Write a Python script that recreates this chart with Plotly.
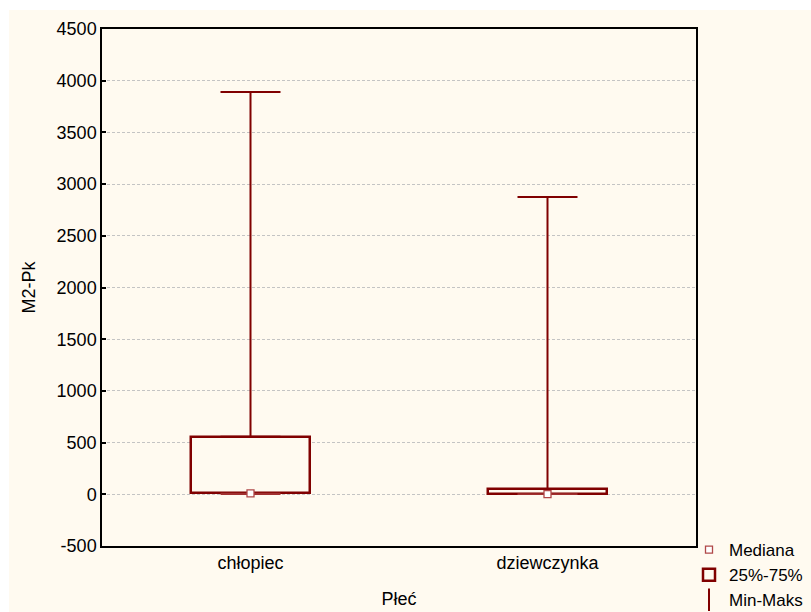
import plotly.graph_objects as go

# Box-whisker summary of M2-Pk by sex
categories = ["chłopiec", "dziewczynka"]
minimum = [0, 0]
q1 = [8, 2]
median = [8, 2]
q3 = [557, 51]
maximum = [3890, 2875]

y_ticks = [-500, 0, 500, 1000, 1500, 2000, 2500, 3000, 3500, 4000, 4500]
y_tick_text = [str(v) for v in y_ticks]

DARK_RED = "#800000"
CREAM = "#FFFAF0"
FONT = "Liberation Sans, Arial, sans-serif"
FS = 18

fig = go.Figure()

# interquartile box
fig.add_trace(go.Bar(
    x=categories,
    y=[b - a for a, b in zip(q1, q3)],
    base=q1,
    width=0.4,
    marker=dict(color=CREAM, line=dict(color=DARK_RED, width=2.5)),
    name="25%-75%",
    legendrank=2,
    hoverinfo="skip",
))

# upper whisker: q3 -> max
fig.add_trace(go.Scatter(
    x=categories, y=q3, mode="markers",
    marker=dict(opacity=0, size=1),
    error_y=dict(type="data", symmetric=False,
                 array=[m - b for b, m in zip(q3, maximum)],
                 arrayminus=[0, 0],
                 color=DARK_RED, thickness=2, width=30),
    showlegend=False, hoverinfo="skip",
))

# lower whisker: min -> q1
fig.add_trace(go.Scatter(
    x=categories, y=q1, mode="markers",
    marker=dict(opacity=0, size=1),
    error_y=dict(type="data", symmetric=False,
                 array=[0, 0],
                 arrayminus=[a - m for a, m in zip(q1, minimum)],
                 color="#A03030", thickness=1.5, width=30),
    showlegend=False, hoverinfo="skip",
))

# median markers
fig.add_trace(go.Scatter(
    x=categories, y=median, mode="markers",
    marker=dict(symbol="square", size=7, color="white",
                line=dict(color="#B04848", width=1.3)),
    name="Mediana",
    legendrank=1,
    hoverinfo="skip",
))

# legend entry for the whisker range
fig.add_trace(go.Scatter(
    x=[None], y=[None], mode="markers",
    marker=dict(symbol="line-ns", size=16, color=DARK_RED,
                line=dict(color=DARK_RED, width=2)),
    name="Min-Maks",
    legendrank=3,
))

L, R, T, B = 102, 115, 29, 66
W, H = 811, 612
pw, ph = W - L - R, H - T - B

# cream backdrop leaving a thin white strip on the top and left
fig.add_shape(
    type="rect", xref="paper", yref="paper", layer="below",
    x0=(9 - L) / pw, x1=(W - L) / pw,
    y0=-(B + 2) / ph, y1=(H - B - 10) / ph,
    fillcolor=CREAM, line=dict(width=0),
)

fig.update_layout(
    width=W, height=H,
    margin=dict(l=L, r=R, t=T, b=B, autoexpand=False),
    paper_bgcolor="white",
    plot_bgcolor=CREAM,
    font=dict(family=FONT, size=FS, color="black"),
    showlegend=True,
    legend=dict(
        x=(689 - L) / pw, y=(H - B - 532) / ph,
        xanchor="left", yanchor="top",
        bgcolor="rgba(0,0,0,0)",
        font=dict(size=17),
        itemwidth=30,
        tracegroupgap=0,
    ),
    bargap=0,
)

fig.update_xaxes(
    range=[-0.5, 1.5],
    showgrid=False, zeroline=False,
    showline=True, mirror=True, linecolor="black", linewidth=1.5,
    ticks="",
    title=dict(text="Płeć", font=dict(size=FS), standoff=20),
)

fig.update_yaxes(
    range=[-500, 4500],
    tickvals=y_ticks, ticktext=y_tick_text,
    showgrid=True, gridcolor="#C4C4C4", griddash="3px,2px", gridwidth=1,
    zeroline=False,
    showline=True, mirror=True, linecolor="black", linewidth=1.5,
    ticks="inside", ticklen=4, tickcolor="black", tickwidth=1.5,
    title=dict(text="M2-Pk", font=dict(size=FS), standoff=16),
)

fig.write_html("out.html")
